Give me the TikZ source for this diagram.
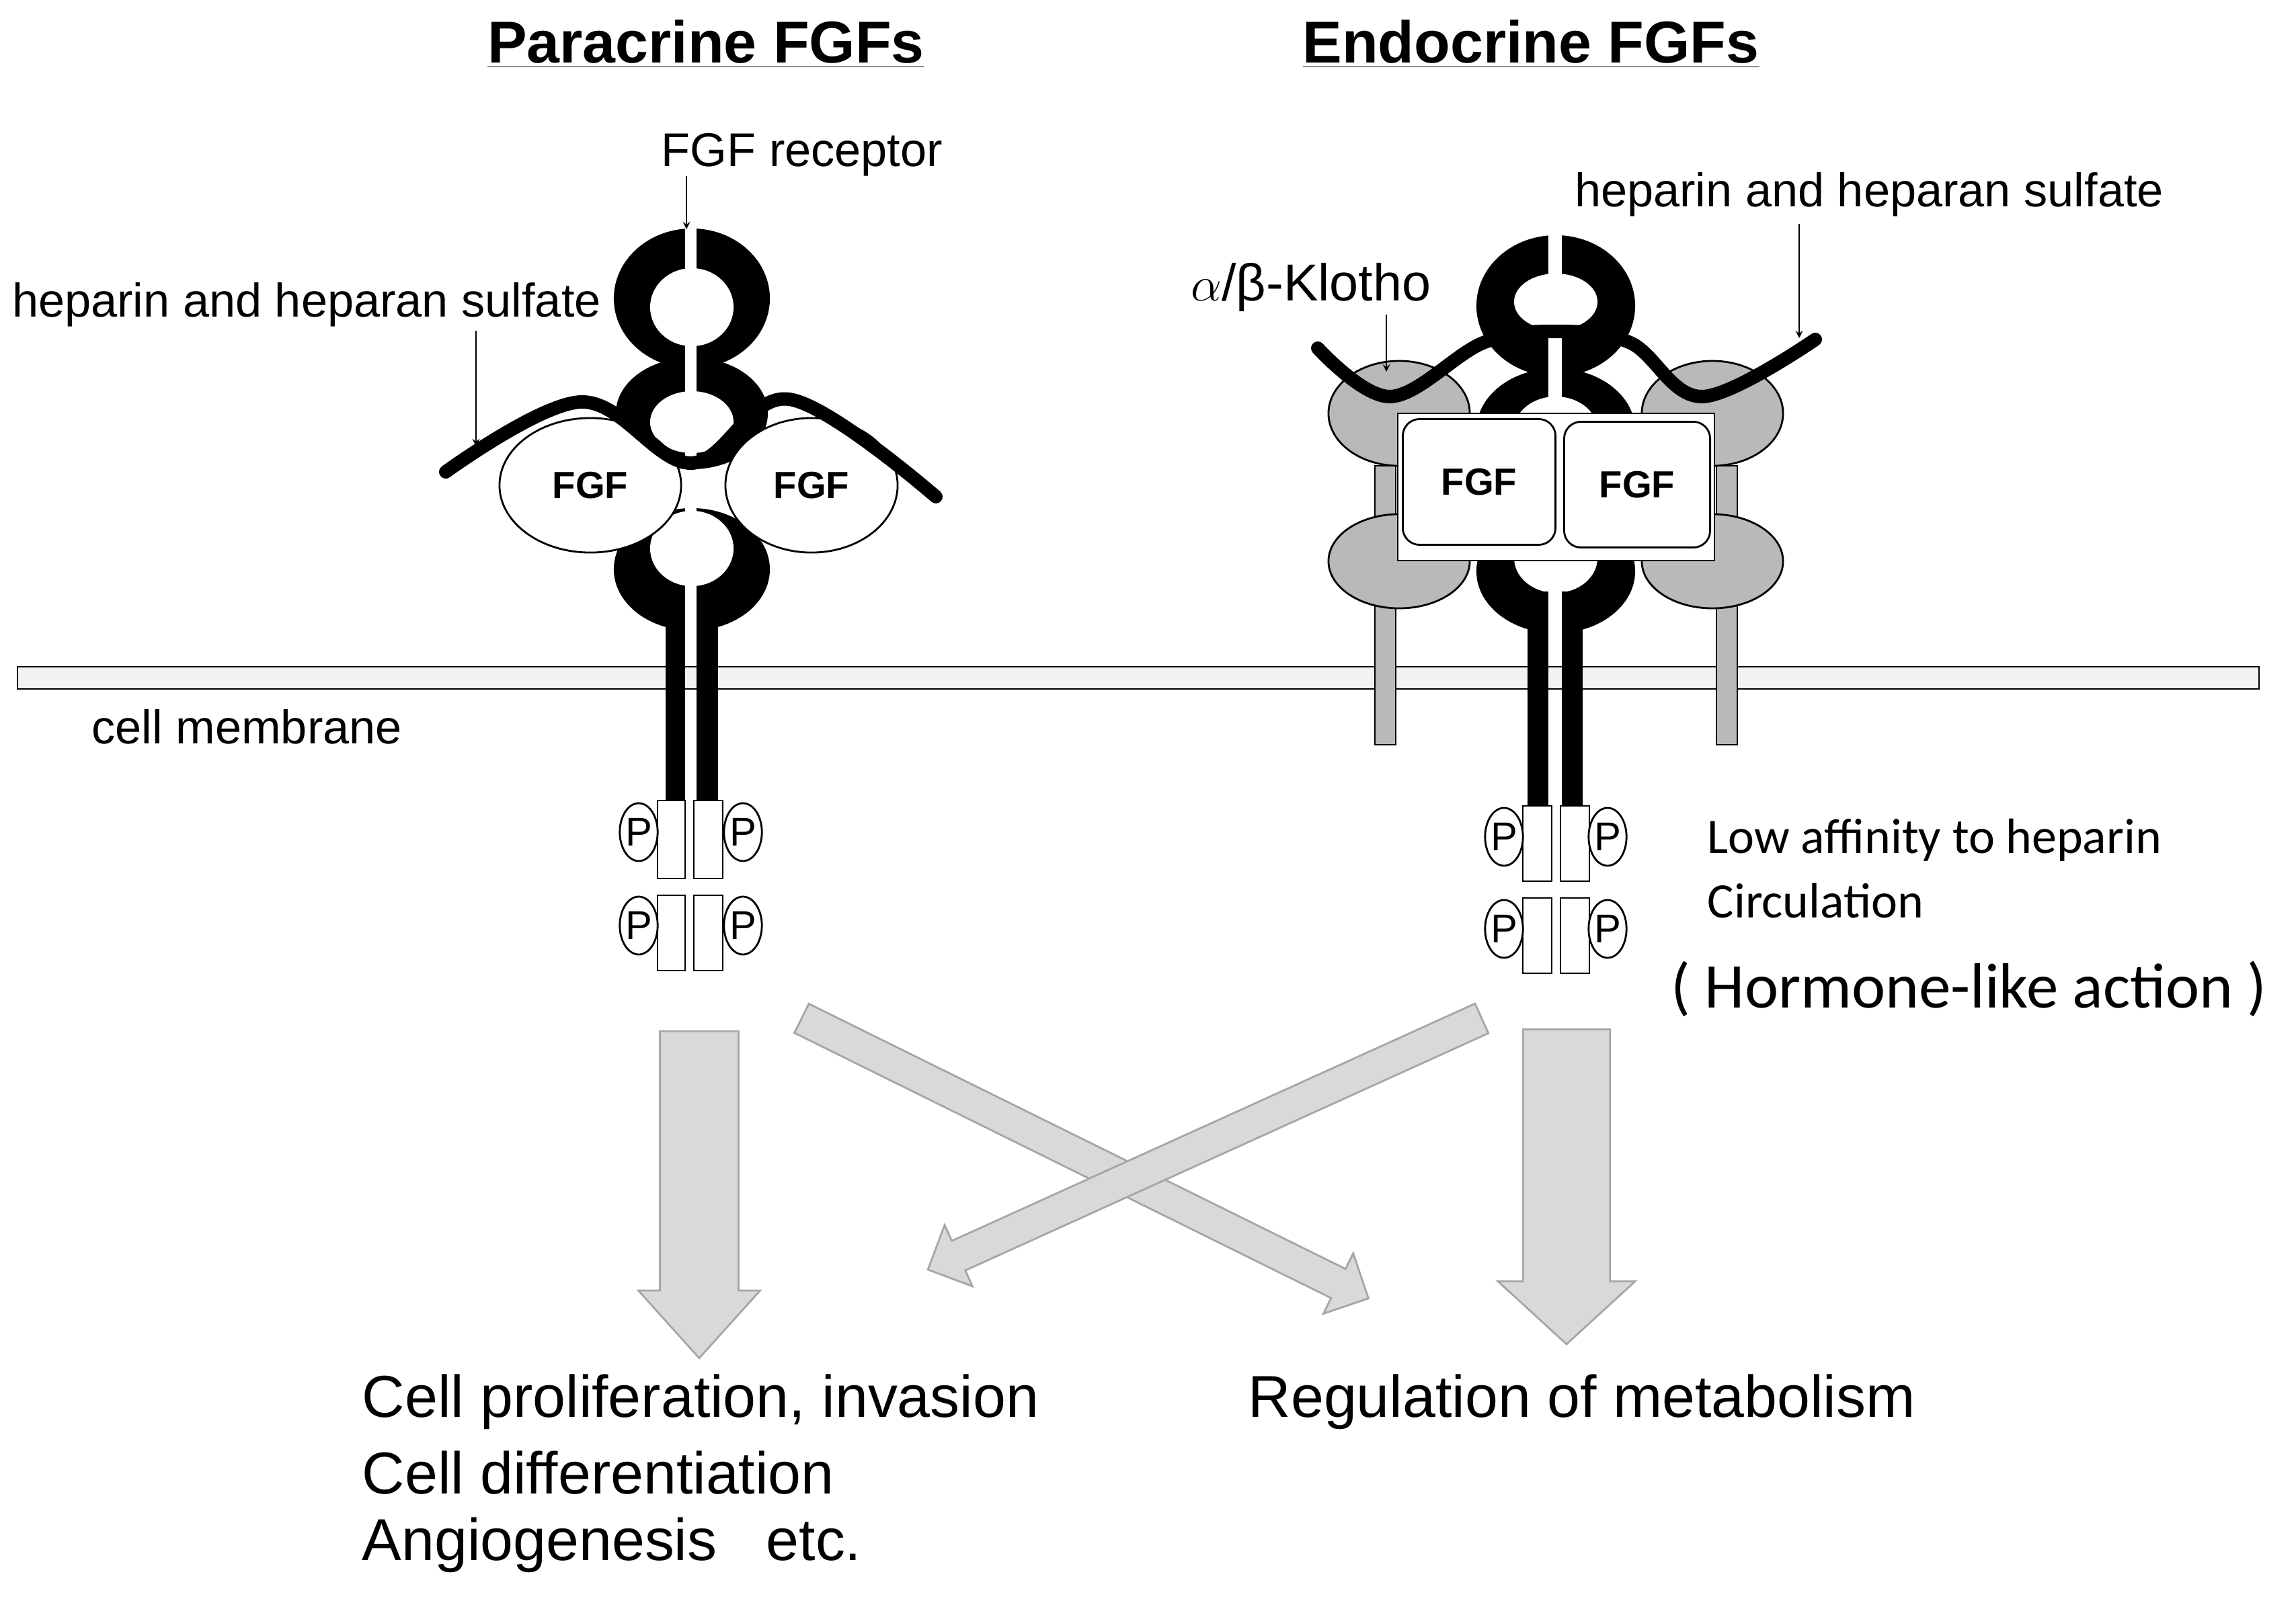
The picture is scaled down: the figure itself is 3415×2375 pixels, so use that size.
\documentclass[tikz,border=0pt]{standalone}
\usepackage{fontspec}
\setmainfont{Liberation Sans}
\newfontfamily\calib{Carlito}
\usetikzlibrary{shapes.geometric,shapes.arrows}
\tikzset{
  lbl/.style={font=\fontsize{20}{24}\selectfont, inner sep=0pt},
  cal/.style={font=\calib\fontsize{21}{25}\selectfont, inner sep=0pt, anchor=west},
  ttl/.style={font=\bfseries\fontsize{25}{30}\selectfont, inner sep=0pt},
  big/.style={font=\fontsize{25}{30}\selectfont, inner sep=0pt, anchor=west},
  pcirc/.style={ellipse, draw, thick, fill=white, minimum width=0.54cm, minimum height=0.86cm, inner sep=0pt, font=\fontsize{17}{17}\selectfont},
  pbox/.style={draw, thick, fill=white},
  hep/.style={line width=0.2cm, line cap=round},
  ptr/.style={->, >=stealth, thin},
  klotho/.style={fill=gray!55, draw=black, thick},
  fgf/.style={font=\bfseries\fontsize{16}{16}\selectfont},
  flow/.style={single arrow, draw=gray!70, thick, fill=gray!30, inner sep=0pt, single arrow head indent=0pt},
}
\begin{document}
\begin{tikzpicture}[x=0.01cm, y=-0.01cm]
  \useasboundingbox (0,0) rectangle (3415,2375);
  % titles
  \node[ttl] (para) at (1050,66) {\underline{Paracrine FGFs}};
  \node[ttl] (endo) at (2277,66) {\underline{Endocrine FGFs}};
  % cell membrane
  \draw[thick, fill=gray!10] (26,992) rectangle (3360,1025);
  \node[lbl, anchor=west] (memb) at (136,1081) {cell membrane};

  % ---- paracrine receptor ----
  \fill (1029,444) ellipse[x radius=1.16cm, y radius=1.04cm];
  \fill (1029,615) ellipse[x radius=1.13cm, y radius=0.83cm];
  \fill (1029,847) ellipse[x radius=1.16cm, y radius=0.91cm];
  \fill[white] (1029,457) ellipse[x radius=0.62cm, y radius=0.58cm];
  \fill[white] (1029,628) ellipse[x radius=0.62cm, y radius=0.46cm];
  \fill[white] (1029,816) ellipse[x radius=0.62cm, y radius=0.56cm];
  \fill[white] (1019,335) rectangle (1036,990);
  \fill (990,872) rectangle (1019,1191);
  \fill (1036,872) rectangle (1068,1191);
  \foreach \y/\h in {1191/1307, 1332/1444} {
    \draw[pbox] (978,\y) rectangle (1019,\h);
    \draw[pbox] (1032,\y) rectangle (1075,\h);
  }
  \node[pcirc] (p1) at (950,1238) {P};
  \node[pcirc] (p2) at (1105,1238) {P};
  \node[pcirc] (p3) at (950,1377) {P};
  \node[pcirc] (p4) at (1105,1377) {P};
  \node[draw, thick, fill=white, ellipse, minimum width=2.7cm, minimum height=2.0cm, fgf] (fgf1) at (878,722) {FGF};
  \node[draw, thick, fill=white, ellipse, minimum width=2.56cm, minimum height=2.0cm, fgf] (fgf2) at (1207,722) {FGF};
  \draw[hep] plot[smooth, tension=0.6] coordinates {(663,702) (864,598) (1028,689) (1174,594) (1392,739)};
  \node[lbl] (hepA) at (456,453) {heparin and heparan sulfate};
  \coordinate (hepAs) at (708,492);
  \coordinate (hepAt) at (708,664);
  \draw[ptr] (hepAs) -- (hepAt);
  \node[lbl] (recp) at (1193,230) {FGF receptor};
  \coordinate (recps) at (1021,262);
  \coordinate (recpt) at (1021,341);
  \draw[ptr] (recps) -- (recpt);

  % ---- endocrine receptor ----
  \draw[klotho] (2045,693) rectangle (2076,1108);
  \draw[klotho] (2553,693) rectangle (2584,1108);
  \draw[klotho] (2081,615) ellipse[x radius=1.05cm, y radius=0.78cm];
  \draw[klotho] (2081,835) ellipse[x radius=1.05cm, y radius=0.70cm];
  \draw[klotho] (2547,615) ellipse[x radius=1.05cm, y radius=0.78cm];
  \draw[klotho] (2547,835) ellipse[x radius=1.05cm, y radius=0.70cm];
  \fill (2314,455) ellipse[x radius=1.18cm, y radius=1.05cm];
  \fill (2314,640) ellipse[x radius=1.18cm, y radius=0.92cm];
  \fill (2314,850) ellipse[x radius=1.18cm, y radius=0.92cm];
  \fill[white] (2314,449) ellipse[x radius=0.62cm, y radius=0.42cm];
  \fill[white] (2314,640) ellipse[x radius=0.62cm, y radius=0.50cm];
  \fill[white] (2314,830) ellipse[x radius=0.62cm, y radius=0.52cm];
  \fill[white] (2303,340) rectangle (2323,990);
  \fill (2272,880) rectangle (2303,1199);
  \fill (2323,880) rectangle (2354,1199);
  \draw[thick, fill=white] (2079,615) rectangle (2550,834);
  \node[draw, thick, fill=white, rounded corners=0.25cm, minimum width=2.27cm, minimum height=1.87cm, fgf] (fgf3) at (2200,717) {FGF};
  \node[draw, thick, fill=white, rounded corners=0.25cm, minimum width=2.17cm, minimum height=1.87cm, fgf] (fgf4) at (2435,721) {FGF};
  \foreach \y/\h in {1199/1311, 1336/1448} {
    \draw[pbox] (2265,\y) rectangle (2308,\h);
    \draw[pbox] (2321,\y) rectangle (2364,\h);
  }
  \node[pcirc] (p5) at (2237,1245) {P};
  \node[pcirc] (p6) at (2391,1245) {P};
  \node[pcirc] (p7) at (2237,1382) {P};
  \node[pcirc] (p8) at (2391,1382) {P};
  \draw[hep] plot[smooth, tension=0.6] coordinates {(1960,518) (2068,590) (2206,510) (2313,493) (2425,510) (2532,590) (2700,505)};
  \node[lbl, font=\fontsize{22}{26}\selectfont] (klo) at (1950,427) {$\alpha$/β-Klotho};
  \coordinate (klos) at (2062,468);
  \coordinate (klot) at (2062,553);
  \draw[ptr] (klos) -- (klot);
  \node[lbl] (hepB) at (2780,289) {heparin and heparan sulfate};
  \coordinate (hepBs) at (2676,333);
  \coordinate (hepBt) at (2676,503);
  \draw[ptr] (hepBs) -- (hepBt);
  \node[cal] (low) at (2539,1250) {Low affinity to heparin};
  \node[cal] (circ) at (2539,1340) {Circulation};
  \node[cal, font=\calib\fontsize{27}{30}\selectfont] (horm) at (2485,1471) {( Hormone-like action )};

  % ---- signalling arrows ----
  \node[flow, rotate=-90, minimum height=4.86cm, minimum width=1.81cm, inner ysep=0.44cm, single arrow tip angle=84] (down1) at (1040,1745) {};
  \node[flow, rotate=-90, minimum height=4.68cm, minimum width=2.04cm, inner ysep=0.42cm, single arrow tip angle=95] (down2) at (2330,1736) {};
  \node[flow, rotate=-26.3, minimum height=9.4cm, minimum width=1.0cm, inner ysep=0.22cm] (cross1) at (1603,1718) {};
  \node[flow, rotate=204.4, minimum height=9.04cm, minimum width=1.0cm, inner ysep=0.22cm] (cross2) at (1803,1697) {};

  % ---- outcomes ----
  \node[big] (out1) at (538,2086) {Cell proliferation, invasion};
  \node[big] (out2) at (538,2191) {Cell differentiation};
  \node[big] (out3) at (538,2299) {Angiogenesis\ \ \ etc.};
  \node[big] (out4) at (1856,2086) {Regulation of metabolism};
\end{tikzpicture}
\end{document}
